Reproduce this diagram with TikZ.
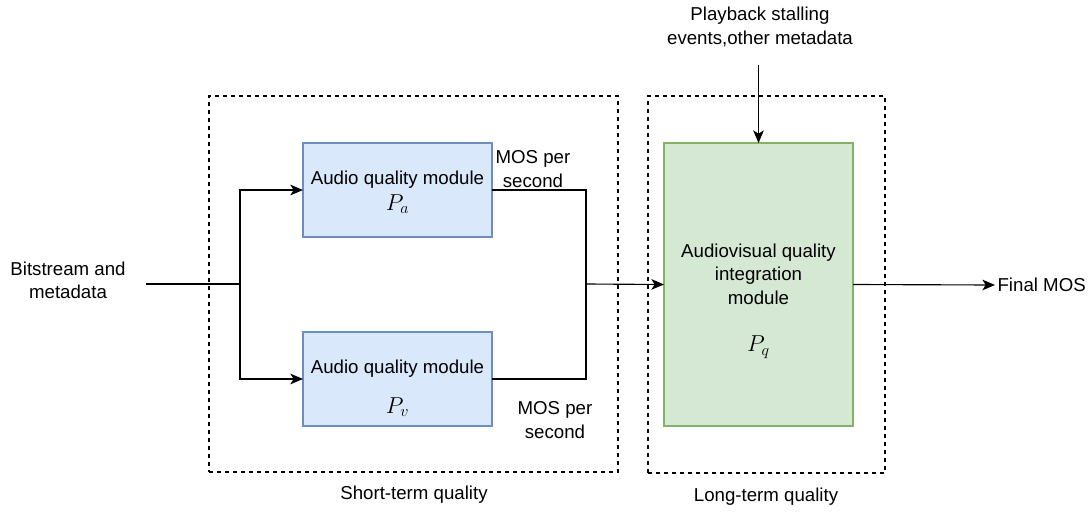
\documentclass[tikz,border=0pt]{standalone}
\usepackage{fontspec}
\setmainfont{Liberation Sans}
\usetikzlibrary{arrows.meta}
\definecolor{blueF}{HTML}{DAE8FC}
\definecolor{blueS}{HTML}{6C8EBF}
\definecolor{greenF}{HTML}{D5E8D4}
\definecolor{greenS}{HTML}{82B366}
\begin{document}
\begin{tikzpicture}[x=0.75pt,y=-0.75pt,
  font=\fontsize{14}{17.5}\selectfont, line width=0.85pt,
  arr/.style={-{Stealth[length=9.5pt,width=8pt,inset=2.5pt]}},
  grp/.style={draw, dash pattern=on 3pt off 3pt, inner sep=0pt, outer sep=0pt},
  blu/.style={draw=blueS, fill=blueF, minimum width=141.75pt, minimum height=70.5pt, inner sep=0pt, outer sep=0pt},
  grn/.style={draw=greenS, fill=greenF, minimum width=141.75pt, minimum height=212.25pt, inner sep=0pt, outer sep=0pt},
  lbl/.style={align=center, inner sep=1.5pt},
  sym/.style={inner sep=1pt, font=\fontsize{18}{20}\selectfont}]
\useasboundingbox (0,0) rectangle (1091,511);
% groups
\node[grp, minimum width=306.75pt, minimum height=282pt] (st) at (413.5,284) {};
\node[grp, minimum width=177.75pt, minimum height=282.75pt] (lt) at (766.5,284.5) {};
% boxes
\node[blu] (pa) at (397.5,190) {};
\node[blu] (pv) at (397.5,379) {};
\node[grn] (pq) at (758.5,284.5) {};
% box texts
\node[lbl] (ta) at (397.5,180) {Audio quality module};
\node[sym] (sa) at (397.5,204) {$P_a$};
\node[lbl] (tv) at (397.5,369) {Audio quality module};
\node[sym] (sv) at (397.5,407) {$P_v$};
\node[lbl] (tq) at (758.5,274) {Audiovisual quality\\integration\\module};
\node[sym] (sq) at (758.5,347) {$P_q$};
% labels
\node[lbl] (bits) at (68,280) {Bitstream and\\metadata};
\node[lbl] (play) at (760,27) {Playback stalling\\events,other metadata};
\node[lbl] (mos1) at (533,169) {MOS per\\second};
\node[lbl] (mos2) at (555,420) {MOS per\\second};
\node[lbl] (stl) at (414,495) {Short-term quality};
\node[lbl] (ltl) at (766,497) {Long-term quality};
\node[lbl, anchor=west] (fm) at (995,285) {Final MOS};
% connectors
\coordinate (in) at (146,284);
\coordinate (s) at (240,284);
\coordinate (m) at (586,284);
\coordinate (pin) at (758.5,65);
\draw (in) -- (s);
\draw[arr] (s) |- (pa.west);
\draw[arr] (s) |- (pv.west);
\draw (pa.east) -| (m);
\draw (pv.east) -| (m);
\draw[arr] (m) -- (pq.west);
\draw[arr] (pin) -- (pq.north);
\draw[arr] (pq.east) -- (fm.west);
\end{tikzpicture}
\end{document}
